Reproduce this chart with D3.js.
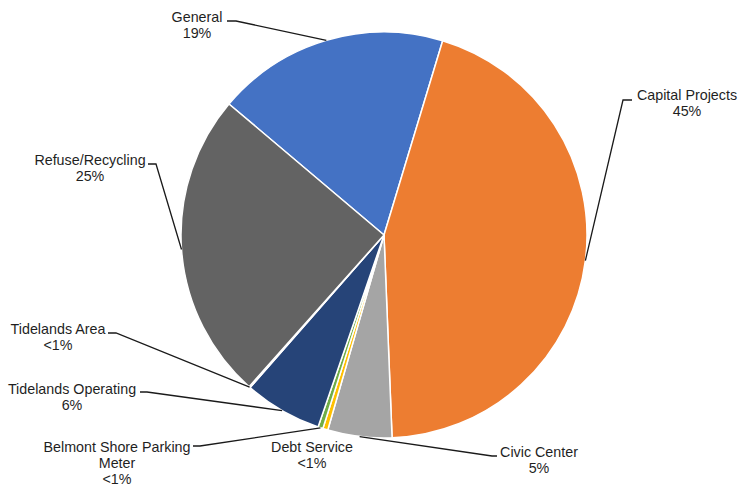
<!DOCTYPE html>
<html>
<head>
<meta charset="utf-8">
<script src="https://cdn.jsdelivr.net/npm/d3@7"></script>
<style>
    body { margin: 0; background: #fff; }
    svg { display: block; font-family: Arial, "Liberation Sans", sans-serif; }
</style>
</head>
<body>
<div id="chart"></div>
<script>
// Fund shares (percent), clockwise from the General slice
const funds = ['General', 'Capital Projects', 'Civic Center', 'Debt Service',
    'Belmont Shore Parking Meter', 'Tidelands Operating', 'Tidelands Area', 'Refuse/Recycling'];
const shares = [18.5, 44.7, 5.1, 0.4, 0.4, 6.2, 0.1, 24.6];
const shareLabels = ['19%', '45%', '5%', '<1%', '<1%', '6%', '<1%', '25%'];
const colors = ['#4472C4', '#ED7D31', '#A5A5A5', '#FFC000', '#70AD47', '#264478', '#9E480E', '#636363'];

// Label layout: text centre x, first baseline y, lines of name, leader elbow points
const labelLayout = [
    { x: 197, y: 22, name: ['General'], leader: [[227, 21], [236, 21]] },
    { x: 687, y: 100, name: ['Capital Projects'], leader: [[632, 100], [623, 100]] },
    { x: 539, y: 457, name: ['Civic Center'], leader: [[497, 456], [492, 456]] },
    { x: 312, y: 452, name: ['Debt Service'], leader: null },
    { x: 117, y: 452, name: ['Belmont Shore Parking', 'Meter'], leader: [[193, 446], [200, 446]] },
    { x: 72, y: 394, name: ['Tidelands Operating'], leader: [[140, 392], [147, 392]] },
    { x: 58, y: 334, name: ['Tidelands Area'], leader: [[108, 333], [116, 333]] },
    { x: 90, y: 165, name: ['Refuse/Recycling'], leader: [[148, 164], [156, 164]] }
];

const width = 740, height = 487;
const cx = 384, cy = 235, radius = 203;
const lineHeight = 16;

const svg = d3.select('#chart').append('svg')
    .attr('width', width)
    .attr('height', height);

const startAngle = -49.8 * Math.PI / 180;
const pie = d3.pie()
    .sort(null)
    .value(d => d.value)
    .startAngle(startAngle)
    .endAngle(startAngle + 2 * Math.PI);

const data = funds.map((f, i) => ({ name: f, value: shares[i], pct: shareLabels[i], color: colors[i], layout: labelLayout[i] }));
const arcs = pie(data);

const arc = d3.arc().innerRadius(0).outerRadius(radius);

const g = svg.append('g').attr('transform', `translate(${cx},${cy})`);

g.selectAll('path')
    .data(arcs)
    .join('path')
    .attr('d', arc)
    .attr('fill', d => d.data.color)
    .attr('stroke', '#fff')
    .attr('stroke-width', 1.5)
    .attr('stroke-linejoin', 'round');

// Leader lines from the slice edge (mid angle) to the label
const line = d3.line();
arcs.forEach(d => {
    const lay = d.data.layout;
    if (!lay.leader) return;
    const mid = (d.startAngle + d.endAngle) / 2;
    const edge = [cx + radius * Math.sin(mid), cy - radius * Math.cos(mid)];
    svg.append('path')
        .attr('d', line([...lay.leader, edge]))
        .attr('fill', 'none')
        .attr('stroke', '#1a1a1a')
        .attr('stroke-width', 1.3);
});

// Labels
arcs.forEach(d => {
    const lay = d.data.layout;
    const lines = [...lay.name, d.data.pct];
    const t = svg.append('text')
        .attr('text-anchor', 'middle')
        .attr('font-size', 14.3)
        .attr('fill', '#1f1f1f');
    lines.forEach((s, i) => {
        t.append('tspan')
            .attr('x', lay.x)
            .attr('y', lay.y + i * lineHeight)
            .text(s);
    });
});
</script>
</body>
</html>
